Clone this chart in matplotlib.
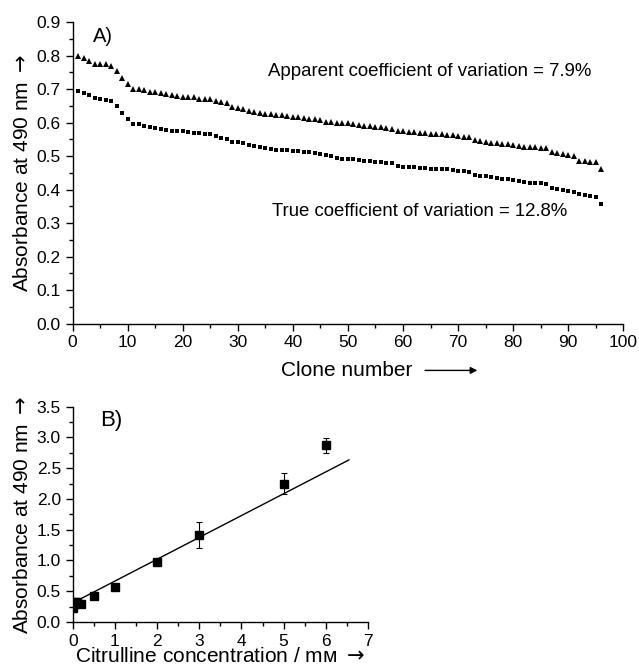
import matplotlib
matplotlib.use("Agg")
import matplotlib.pyplot as plt
from matplotlib.ticker import MultipleLocator
import numpy as np

plt.rcParams["font.family"] = ["Liberation Sans", "DejaVu Sans"]

# panel A: absorbance per clone, sorted
clone = np.arange(1, 97)
apparent = [
    0.800, 0.792, 0.785, 0.775, 0.774, 0.774, 0.769, 0.754, 0.734, 0.715,
    0.702, 0.701, 0.698, 0.693, 0.691, 0.690, 0.685, 0.684, 0.680, 0.678,
    0.677, 0.676, 0.672, 0.672, 0.671, 0.666, 0.661, 0.658, 0.648, 0.645,
    0.641, 0.636, 0.631, 0.628, 0.625, 0.625, 0.623, 0.623, 0.620, 0.618,
    0.616, 0.615, 0.611, 0.610, 0.608, 0.603, 0.601, 0.598, 0.598, 0.598,
    0.595, 0.593, 0.591, 0.590, 0.588, 0.586, 0.583, 0.581, 0.576, 0.575,
    0.573, 0.573, 0.570, 0.568, 0.566, 0.565, 0.565, 0.564, 0.563, 0.560,
    0.558, 0.556, 0.548, 0.546, 0.543, 0.540, 0.538, 0.536, 0.535, 0.533,
    0.531, 0.528, 0.527, 0.526, 0.525, 0.524, 0.511, 0.509, 0.507, 0.505,
    0.502, 0.487, 0.485, 0.484, 0.482, 0.463,
]
true_vals = [
    0.696, 0.688, 0.682, 0.675, 0.671, 0.668, 0.664, 0.650, 0.630, 0.610,
    0.596, 0.595, 0.591, 0.588, 0.585, 0.582, 0.578, 0.576, 0.575, 0.574,
    0.572, 0.570, 0.568, 0.567, 0.566, 0.560, 0.555, 0.551, 0.543, 0.541,
    0.538, 0.533, 0.530, 0.526, 0.523, 0.520, 0.519, 0.519, 0.517, 0.516,
    0.514, 0.513, 0.511, 0.509, 0.506, 0.504, 0.501, 0.494, 0.492, 0.492,
    0.491, 0.489, 0.487, 0.486, 0.482, 0.482, 0.481, 0.479, 0.472, 0.469,
    0.469, 0.467, 0.466, 0.464, 0.462, 0.461, 0.461, 0.461, 0.459, 0.456,
    0.456, 0.452, 0.444, 0.442, 0.441, 0.437, 0.436, 0.432, 0.431, 0.429,
    0.427, 0.422, 0.421, 0.419, 0.419, 0.417, 0.404, 0.402, 0.400, 0.397,
    0.394, 0.386, 0.384, 0.382, 0.379, 0.356,
]

# panel B: calibration with citrulline
conc = [0, 0.05, 0.1, 0.2, 0.5, 1, 2, 3, 5, 6]
absorb = [0.22, 0.32, 0.32, 0.29, 0.43, 0.57, 0.98, 1.42, 2.25, 2.87]
absorb_err = [0.05, 0.03, 0.03, 0.03, 0.03, 0.03, 0.03, 0.21, 0.17, 0.12]
fit_intercept = 0.31
fit_slope = 0.355
fit_xmax = 6.55

fig = plt.figure(figsize=(6.39, 6.66), dpi=100)


def style_axes(ax):
    for side in ("top", "right"):
        ax.spines[side].set_visible(False)
    for side in ("left", "bottom"):
        ax.spines[side].set_linewidth(1.0)
    ax.tick_params(which="major", direction="out", length=5, width=1.0,
                   labelsize=12.5)
    ax.tick_params(which="minor", direction="out", length=3, width=1.0)


ylab = r"Absorbance at 490 nm $\rightarrow$"

# --- A ---
ax1 = fig.add_axes([0.1135, 0.514, 0.862, 0.4527])
ax1.plot(clone, apparent, "k^", markersize=4.3, markeredgewidth=0)
ax1.plot(clone, true_vals, "ks", markersize=3.4, markeredgewidth=0)
ax1.set_xlim(0, 100)
ax1.set_ylim(0, 0.9)
ax1.xaxis.set_major_locator(MultipleLocator(10))
ax1.xaxis.set_minor_locator(MultipleLocator(5))
ax1.yaxis.set_major_locator(MultipleLocator(0.1))
ax1.yaxis.set_minor_locator(MultipleLocator(0.05))
ax1.yaxis.set_major_formatter(lambda v, p: f"{v:.1f}")
style_axes(ax1)
ax1.set_ylabel(ylab, fontsize=15, labelpad=3)
# x label with a long arrow, as in the original
ax1.text(0.378, -0.155, "Clone number", transform=ax1.transAxes,
         fontsize=15, ha="left", va="center")
ax1.annotate("", xy=(0.735, -0.155), xytext=(0.64, -0.155),
             xycoords="axes fraction", textcoords="axes fraction",
             arrowprops=dict(arrowstyle="-|>", color="k", lw=1.0,
                             mutation_scale=10, shrinkA=0, shrinkB=0))
ax1.text(3.7, 0.856, "A)", fontsize=14.5, va="center", ha="left")
ax1.text(35.5, 0.752, "Apparent coefficient of variation = 7.9%",
         fontsize=13.4, va="center", ha="left")
ax1.text(36.3, 0.334, "True coefficient of variation = 12.8%",
         fontsize=13.4, va="center", ha="left")

# --- B ---
ax2 = fig.add_axes([0.1138, 0.0661, 0.462, 0.3232])
ax2.errorbar(conc, absorb, yerr=absorb_err, fmt="ks", markersize=5.5,
             ecolor="k", elinewidth=0.8, capsize=2, capthick=0.8)
xf = np.array([0, fit_xmax])
ax2.plot(xf, fit_intercept + fit_slope * xf, "k-", lw=1.0)
ax2.set_xlim(0, 7)
ax2.set_ylim(0, 3.5)
ax2.xaxis.set_major_locator(MultipleLocator(1))
ax2.xaxis.set_minor_locator(MultipleLocator(0.5))
ax2.yaxis.set_major_locator(MultipleLocator(0.5))
ax2.yaxis.set_minor_locator(MultipleLocator(0.25))
ax2.yaxis.set_major_formatter(lambda v, p: f"{v:.1f}")
style_axes(ax2)
ax2.set_xlabel("Citrulline concentration / m\u1d0d $\\rightarrow$",
               fontsize=15, labelpad=-1)
ax2.set_ylabel(ylab, fontsize=15, labelpad=3)
ax2.text(0.65, 3.28, "B)", fontsize=16, va="center", ha="left")

fig.savefig("out.png", dpi=100)
